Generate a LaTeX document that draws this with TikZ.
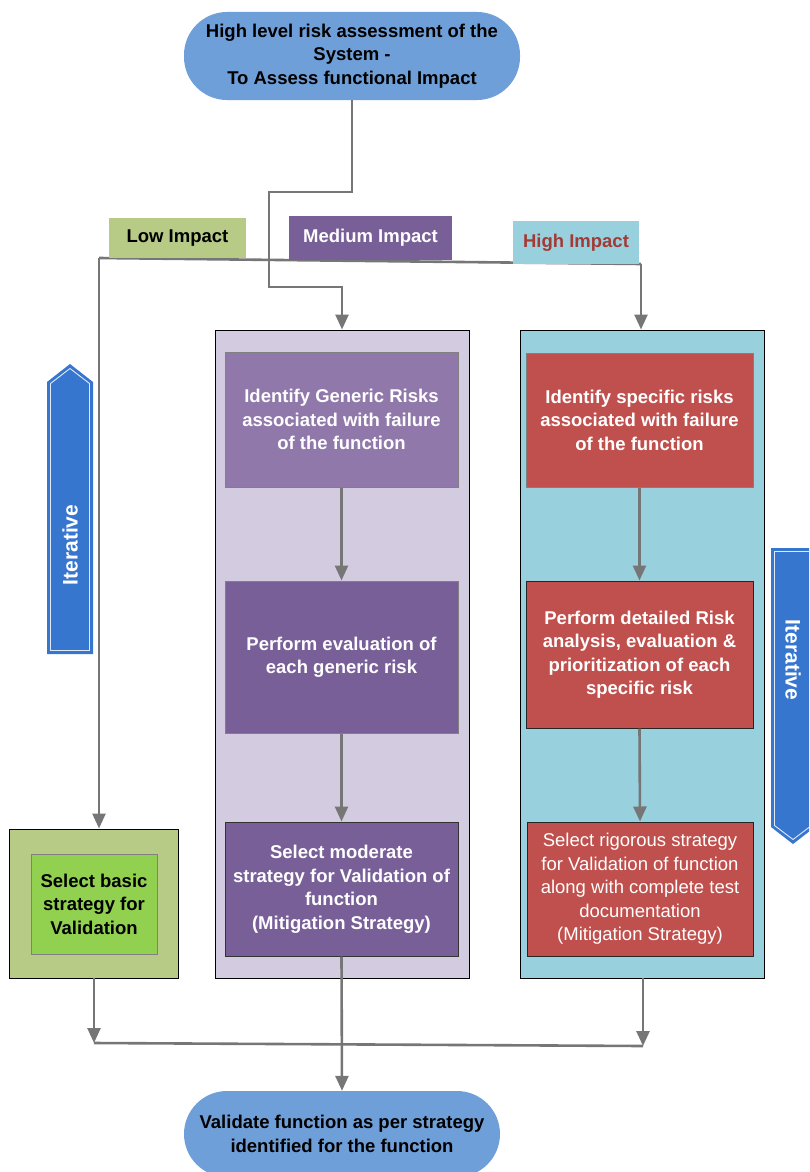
\documentclass[tikz,border=0pt]{standalone}
\usepackage{fontspec}
\setmainfont{Liberation Sans}
\usetikzlibrary{arrows.meta}
\definecolor{termblue}{HTML}{6F9FD8}
\definecolor{lowgreen}{HTML}{B7CB86}
\definecolor{litegreen}{HTML}{92D050}
\definecolor{lavender}{HTML}{D3CBE0}
\definecolor{purpleb}{HTML}{785F98}
\definecolor{litepurple}{HTML}{9079AA}
\definecolor{cyanb}{HTML}{99D0DE}
\definecolor{redb}{HTML}{C0504D}
\definecolor{redtext}{HTML}{A33A35}
\definecolor{iterblue}{HTML}{3776CF}
\definecolor{linegray}{HTML}{767676}
\definecolor{boxgray}{HTML}{808080}
\newcommand\boxfont{\fontsize{18.5}{23.5}\selectfont}
\begin{document}
\begin{tikzpicture}[x=1pt,y=-1pt,
  conn/.style={draw=linegray, line width=2.6pt},
  arr/.style={conn, -{Triangle[length=15pt,width=13pt]}},
  container/.style={draw=black, line width=1pt, inner sep=0pt},
  stepbox/.style={inner sep=0pt, align=center, font=\boxfont\bfseries, text=white, line width=1pt},
  label/.style={inner sep=0pt, align=center, font=\boxfont\bfseries},
  term/.style={fill=termblue, inner sep=0pt, align=center, font=\boxfont\bfseries, rounded corners=43pt},
  iter/.style={fill=iterblue},
  iterline/.style={draw=white!85!iterblue, line width=0.9pt}
]
\useasboundingbox (0,0) rectangle (809,1172);
\clip (0,0) rectangle (809,1172);

% containers
\node[container, fill=lavender, minimum width=254pt, minimum height=648pt] (medc) at (342,654) {};
\node[container, fill=cyanb, minimum width=244pt, minimum height=648pt] (highc) at (642,654) {};
\node[container, fill=lowgreen, minimum width=169pt, minimum height=149pt] (lowc) at (93.5,903.5) {};

% inner boxes
\node[stepbox, fill=litegreen, draw=boxgray, text=black, minimum width=126pt, minimum height=100pt] (lowin) at (94,904) {Select basic\\strategy for\\Validation};

\node[stepbox, fill=litepurple, draw=boxgray, minimum width=233pt, minimum height=135pt] (m1) at (341.5,419.5) {Identify Generic Risks\\associated with failure\\of the function};
\node[stepbox, fill=purpleb, draw=boxgray, minimum width=233pt, minimum height=152pt] (m2) at (341.5,657) {Perform evaluation of\\each generic risk};
\node[stepbox, fill=purpleb, draw=black!80, minimum width=233pt, minimum height=134pt] (m3) at (341.5,889) {Select moderate\\strategy for Validation of\\function\\(Mitigation Strategy)};

\node[stepbox, fill=redb, draw=boxgray, minimum width=227pt, minimum height=134pt] (h1) at (639.5,420) {Identify specific risks\\associated with failure\\of the function};
\node[stepbox, fill=redb, draw=black!85, minimum width=227pt, minimum height=147pt] (h2) at (639.5,654.5) {Perform detailed Risk\\analysis, evaluation \&\\prioritization of each\\specific risk};
\node[stepbox, fill=redb, draw=black!85, font=\boxfont, minimum width=226pt, minimum height=134pt] (h3) at (640,889) {Select rigorous strategy\\for Validation of function\\along with complete test\\documentation\\(Mitigation Strategy)};

% terminators
\node[term, minimum width=336pt, minimum height=88pt] (top) at (352,56) {High level risk assessment of the\\System -\\To Assess functional Impact};
\node[term, minimum width=316pt, minimum height=86pt] (bot) at (342,1134) {Validate function as per strategy\\identified for the function};

% connector coordinates
\coordinate (t1) at (352,192);
\coordinate (t2) at (269,192);
\coordinate (t3) at (269,287);
\coordinate (t4) at (342,287);
\coordinate (sl) at (99,258);
\coordinate (sr) at (641,264);
\coordinate (lb) at (94,1043);
\coordinate (rb) at (643,1046);
\coordinate (lcb) at (94,978);
\coordinate (hcb) at (643,978);

% connectors
\draw[conn] (sl) -- (sr);
\draw[arr] (top.south) -- (t1) -- (t2) -- (t3) -- (t4) -- (medc.north);
\draw[arr] (sl) -- (lowc.north -| sl);
\draw[arr] (sr) -- (highc.north -| sr);
\draw[arr] (m1) -- (m2);
\draw[arr] (m2) -- (m3);
\draw[arr] (h1.south) -- (h2.north);
\draw[arr] (h2.south) -- (h3.north);
\draw[conn] (lb) -- (rb);
\draw[arr] (lcb) -- (lb);
\draw[arr] (hcb) -- (rb);
\draw[arr] (m3.south) -- (bot.north);

% impact labels
\node[label, fill=lowgreen, text=black, minimum width=137pt, minimum height=40pt] (lowl) at (177.5,238) {Low Impact};
\node[label, fill=purpleb, text=white, minimum width=163pt, minimum height=44pt] (medl) at (370.5,238) {Medium Impact};
\node[label, fill=cyanb, text=redtext, minimum width=126pt, minimum height=43pt] (highl) at (576,242.5) {High Impact};

% iterative arrows
\fill[iter] (47,654) -- (47,382) -- (70,364) -- (93,382) -- (93,654) -- cycle;
\draw[iterline] (50.5,650.5) -- (50.5,383.5) -- (70,368.5) -- (89.5,383.5) -- (89.5,650.5) -- cycle;
\node[rotate=90, text=white, font=\fontsize{21}{24}\selectfont\bfseries, inner sep=0pt] (itl) at (70,545) {Iterative};

\fill[iter] (771,548) -- (815,548) -- (815,827) -- (793,844) -- (771,827) -- cycle;
\draw[iterline] (774.5,551.5) -- (811.5,551.5) -- (811.5,825.5) -- (793,839.5) -- (774.5,825.5) -- cycle;
\node[rotate=-90, text=white, font=\fontsize{21}{24}\selectfont\bfseries, inner sep=0pt] (itr) at (793,660) {Iterative};
\end{tikzpicture}
\end{document}
